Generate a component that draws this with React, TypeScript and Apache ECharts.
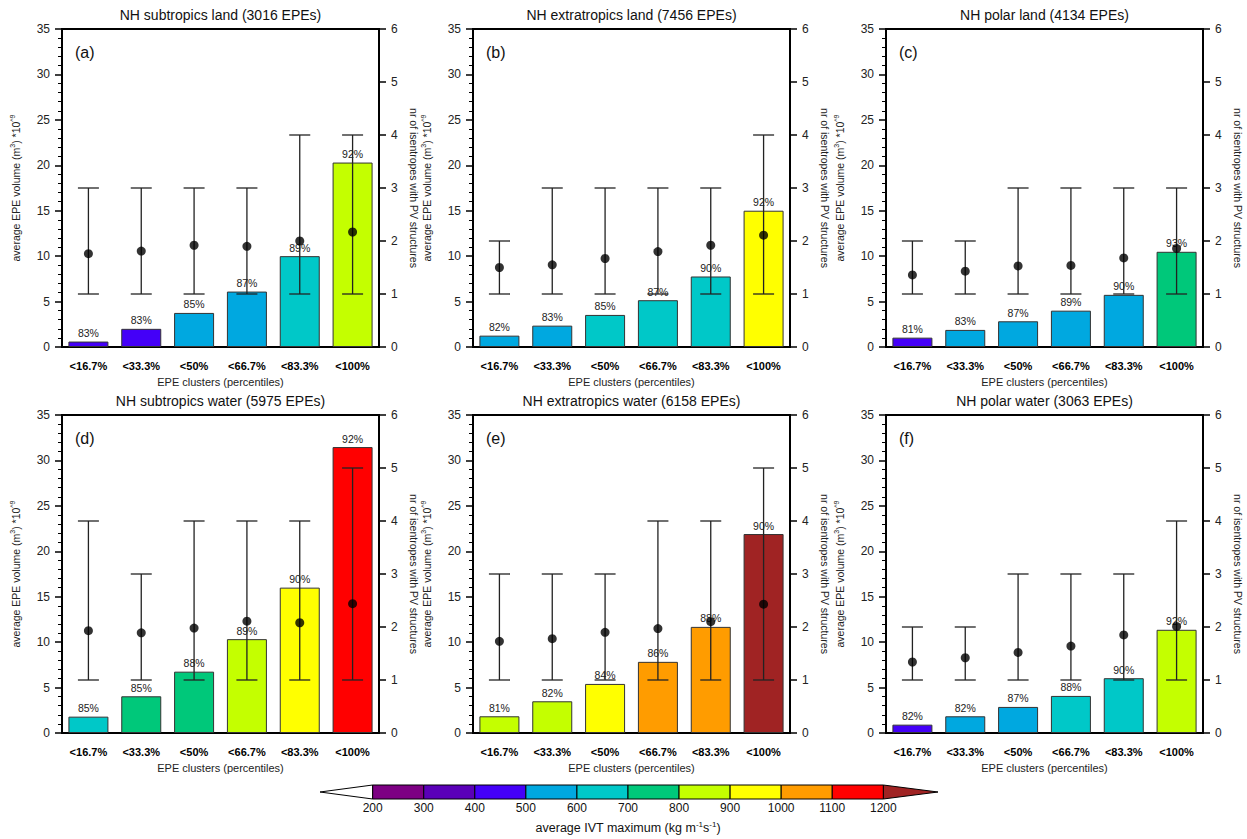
import React, { useEffect, useRef } from "react";
import * as echarts from "echarts";

const FONT = "'Liberation Sans', Arial, Helvetica, sans-serif";

const categories = ["<16.7%", "<33.3%", "<50%", "<66.7%", "<83.3%", "<100%"];
const panelTitles = [
  "NH subtropics land (3016 EPEs)",
  "NH extratropics land (7456 EPEs)",
  "NH polar land (4134 EPEs)",
  "NH subtropics water (5975 EPEs)",
  "NH extratropics water (6158 EPEs)",
  "NH polar water (3063 EPEs)",
];
const panelLetters = ["(a)", "(b)", "(c)", "(d)", "(e)", "(f)"];

// average EPE volume (m^3) *10^9  (left axis, bars)
const volA = [0.6, 2.0, 3.75, 6.1, 10.0, 20.3];
const volB = [1.25, 2.35, 3.53, 5.15, 7.76, 15.0];
const volC = [1.03, 1.88, 2.83, 4.0, 5.74, 10.48];
const volD = [1.8, 4.04, 6.75, 10.33, 16.0, 31.47];
const volE = [1.84, 3.49, 5.4, 7.83, 11.68, 21.9];
const volF = [0.92, 1.84, 2.87, 4.08, 6.03, 11.36];

// percentage labels above bars
const pctA = [83, 83, 85, 87, 89, 92];
const pctB = [82, 83, 85, 87, 90, 92];
const pctC = [81, 83, 87, 89, 90, 93];
const pctD = [85, 85, 88, 89, 90, 92];
const pctE = [81, 82, 84, 86, 88, 90];
const pctF = [82, 82, 87, 88, 90, 92];

// average IVT maximum class (lower bound of colour bin, kg m-1 s-1)
const ivtA = [400, 400, 500, 500, 600, 800];
const ivtB = [500, 500, 600, 600, 600, 900];
const ivtC = [400, 500, 500, 500, 500, 700];
const ivtD = [600, 700, 700, 800, 900, 1100];
const ivtE = [800, 800, 900, 1000, 1000, 1200];
const ivtF = [400, 500, 500, 600, 600, 800];

// nr of isentropes with PV structures (right axis, dots)
const isenA = [1.76, 1.81, 1.92, 1.9, 2.0, 2.17];
const isenB = [1.5, 1.55, 1.67, 1.8, 1.92, 2.11];
const isenC = [1.36, 1.43, 1.53, 1.54, 1.68, 1.86];
const isenD = [1.93, 1.89, 1.98, 2.11, 2.08, 2.44];
const isenE = [1.73, 1.78, 1.9, 1.97, 2.1, 2.43];
const isenF = [1.34, 1.42, 1.52, 1.64, 1.85, 2.01];

// whisker ranges (right axis)
const loA = [1, 1, 1, 1, 1, 1];
const hiA = [3, 3, 3, 3, 4, 4];
const loB = [1, 1, 1, 1, 1, 1];
const hiB = [2, 3, 3, 3, 3, 4];
const loC = [1, 1, 1, 1, 1, 1];
const hiC = [2, 2, 3, 3, 3, 3];
const loD = [1, 1, 1, 1, 1, 1];
const hiD = [4, 3, 4, 4, 4, 5];
const loE = [1, 1, 1, 1, 1, 1];
const hiE = [3, 3, 3, 4, 4, 5];
const loF = [1, 1, 1, 1, 1, 1];
const hiF = [2, 2, 3, 3, 3, 4];

// colour bar
const ivtLevels = [200, 300, 400, 500, 600, 700, 800, 900, 1000, 1100, 1200];
const ivtColors = [
  "#7d0083",
  "#5a00b8",
  "#4400f8",
  "#00a8e0",
  "#00c8c8",
  "#00c87a",
  "#c4ff00",
  "#ffff00",
  "#ff9c00",
  "#ff0000",
];
const ivtUnderColor = "#ffffff";
const ivtOverColor = "#a02323";

function colorFor(v: number): string {
  if (v < ivtLevels[0]) return ivtUnderColor;
  if (v >= ivtLevels[ivtLevels.length - 1]) return ivtOverColor;
  for (let k = 0; k < ivtLevels.length - 1; k++) {
    if (v >= ivtLevels[k] && v < ivtLevels[k + 1]) return ivtColors[k];
  }
  return ivtOverColor;
}

const panels = [
  { vol: volA, pct: pctA, ivt: ivtA, isen: isenA, lo: loA, hi: hiA },
  { vol: volB, pct: pctB, ivt: ivtB, isen: isenB, lo: loB, hi: hiB },
  { vol: volC, pct: pctC, ivt: ivtC, isen: isenC, lo: loC, hi: hiC },
  { vol: volD, pct: pctD, ivt: ivtD, isen: isenD, lo: loD, hi: hiD },
  { vol: volE, pct: pctE, ivt: ivtE, isen: isenE, lo: loE, hi: hiE },
  { vol: volF, pct: pctF, ivt: ivtF, isen: isenF, lo: loF, hi: hiF },
];

const GRID_LEFTS = [62, 473, 886];
const GRID_TOPS = [29, 415];
const GRID_W = 317;
const GRID_H = 318;

function buildOption() {
  const grids: any[] = [];
  const xAxes: any[] = [];
  const yAxes: any[] = [];
  const series: any[] = [];
  const graphics: any[] = [];

  panels.forEach((p, i) => {
    const left = GRID_LEFTS[i % 3];
    const top = GRID_TOPS[Math.floor(i / 3)];
    grids.push({
      left,
      top,
      width: GRID_W,
      height: GRID_H,
      show: true,
      borderColor: "#000",
      borderWidth: 2,
      backgroundColor: "transparent",
    });
    xAxes.push({
      type: "category",
      gridIndex: i,
      data: categories,
      axisLine: { lineStyle: { color: "#000", width: 2 } },
      axisTick: { alignWithLabel: true, length: 8, lineStyle: { color: "#000", width: 2 } },
      axisLabel: { color: "#000", fontSize: 11, fontWeight: "bold", margin: 13, fontFamily: FONT },
      name: "EPE clusters (percentiles)",
      nameLocation: "middle",
      nameGap: 29,
      nameTextStyle: { color: "#222", fontSize: 11, fontFamily: FONT },
    });
    yAxes.push({
      type: "value",
      gridIndex: i,
      position: "left",
      min: 0,
      max: 35,
      interval: 5,
      splitLine: { show: false },
      axisLine: { show: true, lineStyle: { color: "#000", width: 2 } },
      axisTick: { show: true, length: 7, lineStyle: { color: "#000", width: 1.5 } },
      minorTick: { show: true, splitNumber: 5, length: 4, lineStyle: { color: "#000", width: 1 } },
      axisLabel: { color: "#222", fontSize: 12, margin: 12, fontFamily: FONT },
      name: "average EPE volume (m{s|3}) *10{s|^9}",
      nameLocation: "middle",
      nameGap: 40,
      nameTextStyle: {
        color: "#222",
        fontSize: 10.5,
        lineHeight: 13,
        fontFamily: FONT,
        rich: { s: { fontSize: 7, verticalAlign: "top", lineHeight: 13, color: "#222", fontFamily: FONT } },
      },
    });
    yAxes.push({
      type: "value",
      gridIndex: i,
      position: "right",
      min: 0,
      max: 6,
      interval: 1,
      splitLine: { show: false },
      axisLine: { show: true, lineStyle: { color: "#000", width: 2 } },
      axisTick: { show: true, length: 7, lineStyle: { color: "#000", width: 1.5 } },
      axisLabel: { color: "#222", fontSize: 12, margin: 12, fontFamily: FONT },
      name: "nr of isentropes with PV structures",
      nameLocation: "middle",
      nameRotate: -90,
      nameGap: 29,
      nameTextStyle: { color: "#222", fontSize: 10.5, fontFamily: FONT },
    });

    const pct = p.pct;
    series.push({
      type: "bar",
      xAxisIndex: i,
      yAxisIndex: 2 * i,
      barWidth: 40,
      z: 1,
      data: p.vol.map((v, j) => ({ value: v, itemStyle: { color: colorFor(p.ivt[j]) } })),
      itemStyle: { borderColor: "#333", borderWidth: 1 },
      label: {
        show: true,
        position: "top",
        distance: 3,
        color: "#222",
        fontSize: 10.5,
        fontFamily: FONT,
        formatter: (params: any) => pct[params.dataIndex] + "%",
      },
    });
    series.push({
      type: "custom",
      xAxisIndex: i,
      yAxisIndex: 2 * i + 1,
      z: 3,
      data: p.lo.map((l, j) => [j, l, p.hi[j]]),
      renderItem: (params: any, api: any) => {
        const x = api.value(0);
        const a = api.coord([x, api.value(1)]);
        const b = api.coord([x, api.value(2)]);
        const half = 10.5;
        const st = { stroke: "#222", lineWidth: 1.3 };
        return {
          type: "group",
          children: [
            { type: "line", shape: { x1: a[0], y1: a[1], x2: b[0], y2: b[1] }, style: st },
            { type: "line", shape: { x1: a[0] - half, y1: a[1], x2: a[0] + half, y2: a[1] }, style: st },
            { type: "line", shape: { x1: b[0] - half, y1: b[1], x2: b[0] + half, y2: b[1] }, style: st },
          ],
        };
      },
    });
    series.push({
      type: "scatter",
      xAxisIndex: i,
      yAxisIndex: 2 * i + 1,
      z: 4,
      symbol: "circle",
      symbolSize: 9,
      itemStyle: { color: "#000" },
      data: p.isen,
    });

    graphics.push({
      type: "text",
      x: left + GRID_W / 2,
      y: top - 14,
      style: {
        text: panelTitles[i],
        fill: "#111",
        font: `14px ${FONT}`,
        textAlign: "center",
        textVerticalAlign: "middle",
      },
    });
    graphics.push({
      type: "text",
      x: left + 13,
      y: top + 23,
      style: {
        text: panelLetters[i],
        fill: "#111",
        font: `16px ${FONT}`,
        textAlign: "left",
        textVerticalAlign: "middle",
      },
    });
  });

  // colour bar
  const cbLeft = 372.7;
  const cbW = 51.06;
  const cbTop = 785;
  const cbH = 14;
  const nBins = ivtColors.length;
  const cbRight = cbLeft + nBins * cbW;
  graphics.push({
    type: "polygon",
    shape: { points: [[320, cbTop + cbH / 2], [cbLeft, cbTop], [cbLeft, cbTop + cbH]] },
    style: { fill: ivtUnderColor, stroke: "#000", lineWidth: 1 },
  });
  graphics.push({
    type: "polygon",
    shape: { points: [[cbRight, cbTop], [938, cbTop + cbH / 2], [cbRight, cbTop + cbH]] },
    style: { fill: ivtOverColor, stroke: "#000", lineWidth: 1 },
  });
  ivtColors.forEach((c, k) => {
    graphics.push({
      type: "rect",
      shape: { x: cbLeft + k * cbW, y: cbTop, width: cbW, height: cbH },
      style: { fill: c, stroke: "#000", lineWidth: 1 },
    });
  });
  ivtLevels.forEach((lv, k) => {
    graphics.push({
      type: "text",
      x: cbLeft + k * cbW,
      y: cbTop + cbH + 9,
      style: {
        text: String(lv),
        fill: "#111",
        font: `12px ${FONT}`,
        textAlign: "center",
        textVerticalAlign: "middle",
      },
    });
  });
  graphics.push({
    type: "text",
    x: (cbLeft + cbRight) / 2,
    y: 828,
    style: {
      text: "average IVT maximum (kg m{s|-1}s{s|-1})",
      fill: "#111",
      font: `12.5px ${FONT}`,
      fontSize: 12.5,
      fontFamily: FONT,
      lineHeight: 15,
      textAlign: "center",
      textVerticalAlign: "middle",
      rich: { s: { fontSize: 8, verticalAlign: "top", lineHeight: 15, fill: "#111", fontFamily: FONT } },
    },
  });

  return {
    animation: false,
    backgroundColor: "#fff",
    textStyle: { fontFamily: FONT },
    grid: grids,
    xAxis: xAxes,
    yAxis: yAxes,
    series,
    graphic: graphics,
  };
}

export default function App() {
  const ref = useRef<HTMLDivElement>(null);
  useEffect(() => {
    if (!ref.current) return;
    const chart = echarts.init(ref.current, undefined, { renderer: "svg" });
    chart.setOption(buildOption() as any);
    return () => chart.dispose();
  }, []);
  return (
    <div
      ref={ref}
      style={{ position: "fixed", left: 0, top: 0, width: 1247, height: 839, background: "#fff" }}
    />
  );
}
